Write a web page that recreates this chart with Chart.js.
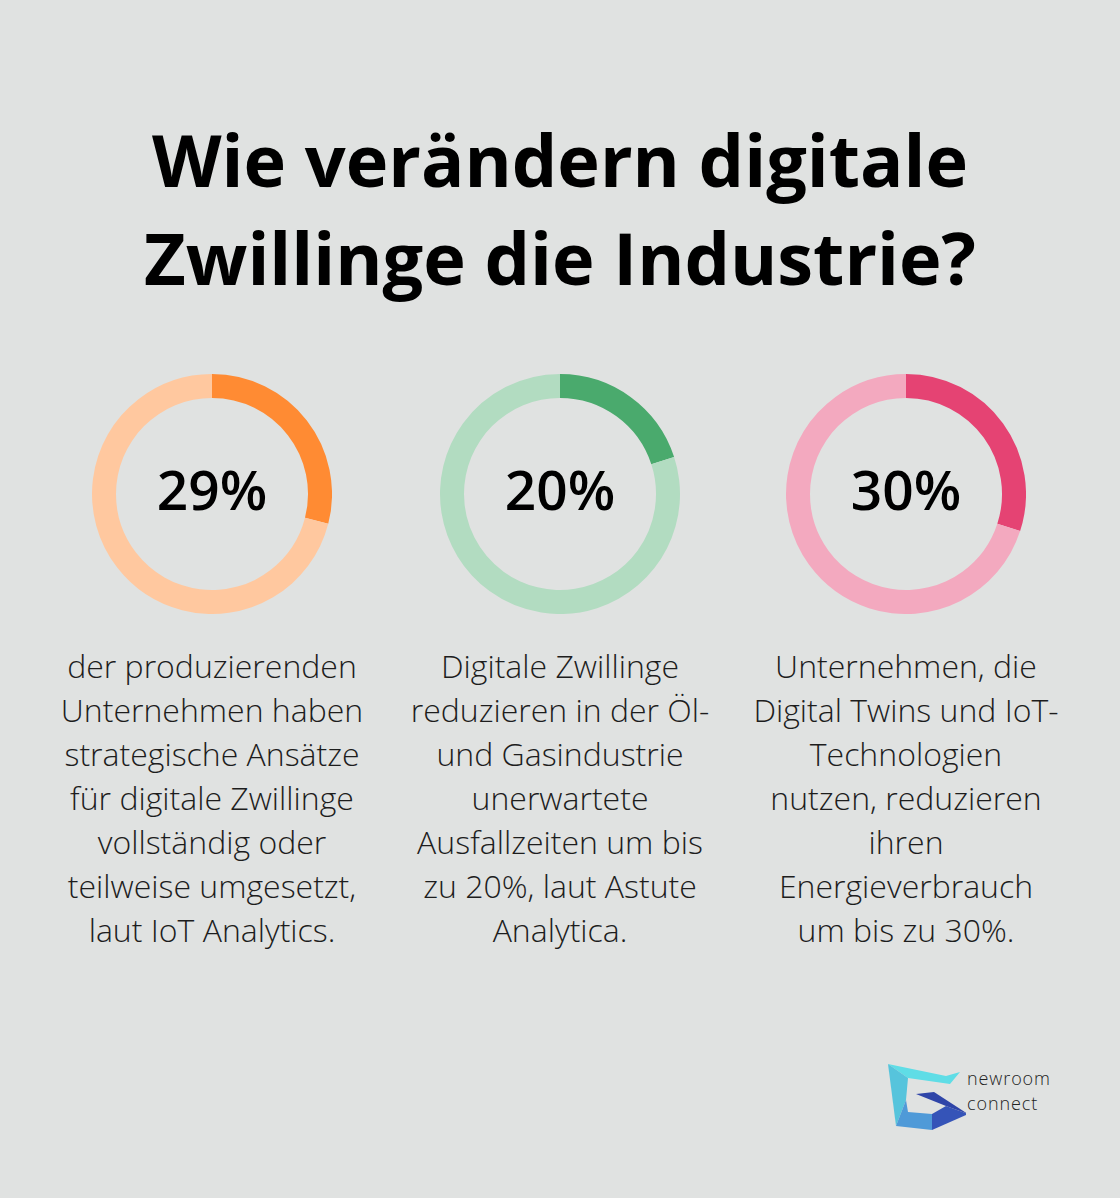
<!DOCTYPE html>
<html lang="de">
<head>
<meta charset="utf-8">
<script src="https://cdn.jsdelivr.net/npm/chart.js@4"></script>
<style>
  html, body { margin: 0; padding: 0; }
  body {
    width: 1120px; height: 1198px; background: #e0e2e1;
    font-family: "Open Sans", sans-serif; position: relative; overflow: hidden;
  }
  h1 {
    position: absolute; left: 0; top: 110px; width: 1120px; margin: 0;
    text-align: center; font-size: 72px; font-weight: 700; line-height: 98px; color: #000;
  }
  .ring { position: absolute; top: 374px; width: 240px; height: 240px; }
  .desc {
    position: absolute; top: 644px; width: 360px; text-align: center;
    font-size: 32px; line-height: 44px; color: #1d1d1d; font-weight: 300;
  }
  .logo { position: absolute; left: 886px; top: 1062px; }
  .logo-text {
    position: absolute; left: 967px; top: 1066px; font-family: "Open Sans", sans-serif;
    font-size: 18px; line-height: 25px; letter-spacing: 0.9px; color: #222; font-weight: 300;
  }
</style>
</head>
<body>
<h1>Wie verändern digitale<br>Zwillinge die Industrie?</h1>

<div class="ring" style="left:92px"><canvas id="c0"></canvas></div>
<div class="ring" style="left:440px"><canvas id="c1"></canvas></div>
<div class="ring" style="left:786px"><canvas id="c2"></canvas></div>

<div class="desc" style="left:32px">der produzierenden<br>Unternehmen haben<br>strategische Ansätze<br>für digitale Zwillinge<br>vollständig oder<br>teilweise umgesetzt,<br>laut IoT Analytics.</div>
<div class="desc" style="left:380px">Digitale Zwillinge<br>reduzieren in der Öl-<br>und Gasindustrie<br>unerwartete<br>Ausfallzeiten um bis<br>zu 20%, laut Astute<br>Analytica.</div>
<div class="desc" style="left:726px">Unternehmen, die<br>Digital Twins und IoT-<br>Technologien<br>nutzen, reduzieren<br>ihren<br>Energieverbrauch<br>um bis zu 30%.</div>

<svg class="logo" width="80" height="72" viewBox="0 0 80 72">
  <polygon points="2,2 60,14 74,10 64,22 22,16" fill="#5fdde6"/>
  <polygon points="2,2 22,16 20,38 10,64" fill="#56c4dc"/>
  <polygon points="10,64 20,38 22,50 46,52 46,68" fill="#4f9ad8"/>
  <polygon points="46,52 60,44 82,52 46,68" fill="#3554b8"/>
  <polygon points="30,32 48,30 82,52 60,44" fill="#2f45a8"/>
</svg>
<div class="logo-text">newroom<br>connect</div>

<script>
var percents = [29, 20, 30];
var mainColors = ["#ff8b33", "#4aaa6d", "#e54373"];
var lightColors = ["#ffc89f", "#b2dcc1", "#f3a9bf"];

var centerText = {
  id: 'centerText',
  afterDraw: function(chart) {
    var ctx = chart.ctx;
    var meta = chart.getDatasetMeta(0).data[0];
    ctx.save();
    ctx.font = "600 55px 'Open Sans'";
    ctx.fillStyle = "#000";
    ctx.textAlign = "center";
    ctx.textBaseline = "middle";
    ctx.fillText(chart.options.plugins.centerText.text, meta.x, meta.y);
    ctx.restore();
  }
};

percents.forEach(function(p, i) {
  var ctx = document.getElementById("c" + i).getContext('2d');
  new Chart(ctx, {
    type: 'doughnut',
    data: {
      labels: ["Anteil", "Rest"],
      datasets: [{
        data: [p, 100 - p],
        backgroundColor: [mainColors[i], lightColors[i]],
        borderWidth: 0
      }]
    },
    options: {
      responsive: true,
      maintainAspectRatio: false,
      animation: false,
      cutout: '80%',
      plugins: {
        legend: { display: false },
        tooltip: { enabled: false },
        centerText: { text: p + "%" }
      }
    },
    plugins: [centerText]
  });
});
</script>
</body>
</html>
